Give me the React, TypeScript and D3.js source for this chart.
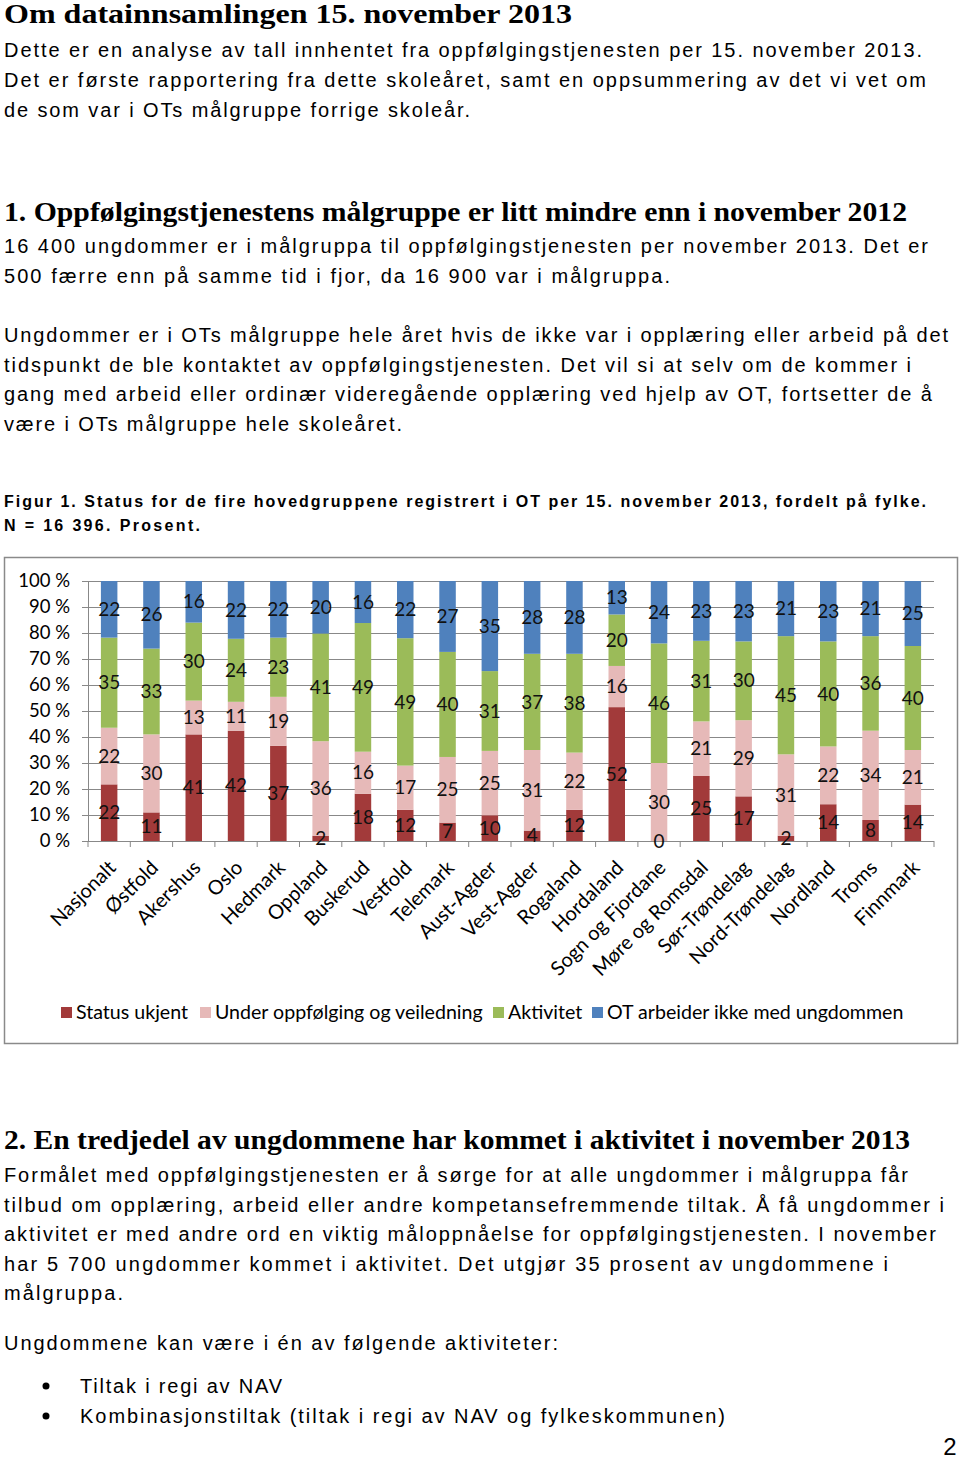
import React from "react";
import * as d3 from "d3";

// ---------- Chart data ----------
const categories = [
  "Nasjonalt", "Østfold", "Akershus", "Oslo", "Hedmark", "Oppland", "Buskerud",
  "Vestfold", "Telemark", "Aust-Agder", "Vest-Agder", "Rogaland", "Hordaland",
  "Sogn og Fjordane", "Møre og Romsdal", "Sør-Trøndelag", "Nord-Trøndelag",
  "Nordland", "Troms", "Finnmark",
];
const statusUkjent = [22, 11, 41, 42, 37, 2, 18, 12, 7, 10, 4, 12, 52, 0, 25, 17, 2, 14, 8, 14];
const underOppfolging = [22, 30, 13, 11, 19, 36, 16, 17, 25, 25, 31, 22, 16, 30, 21, 29, 31, 22, 34, 21];
const aktivitet = [35, 33, 30, 24, 23, 41, 49, 49, 40, 31, 37, 38, 20, 46, 31, 30, 45, 40, 36, 40];
const otIkke = [22, 26, 16, 22, 22, 20, 16, 22, 27, 35, 28, 28, 13, 24, 23, 23, 21, 23, 21, 25];

const seriesNames = [
  "Status ukjent",
  "Under oppfølging og veiledning",
  "Aktivitet",
  "OT arbeider ikke med ungdommen",
];
const seriesColors = ["#A23A3A", "#E6B9B8", "#9BBB59", "#4F81BD"];
const yTicks = [0, 0.1, 0.2, 0.3, 0.4, 0.5, 0.6, 0.7, 0.8, 0.9, 1];

// ---------- Page text ----------
const heading1 = "Om datainnsamlingen 15. november 2013";
const intro = [
  "Dette er en analyse av tall innhentet fra oppfølgingstjenesten per 15. november 2013.",
  "Det er første rapportering fra dette skoleåret, samt en oppsummering av det vi vet om",
  "de som var i OTs målgruppe forrige skoleår.",
];
const heading2 = "1. Oppfølgingstjenestens målgruppe er litt mindre enn i november 2012";
const para1 = [
  "16 400 ungdommer er i målgruppa til oppfølgingstjenesten per november 2013. Det er",
  "500 færre enn på samme tid i fjor, da 16 900 var i målgruppa.",
];
const para2 = [
  "Ungdommer er i OTs målgruppe hele året hvis de ikke var i opplæring eller arbeid på det",
  "tidspunkt de ble kontaktet av oppfølgingstjenesten. Det vil si at selv om de kommer i",
  "gang med arbeid eller ordinær videregående opplæring ved hjelp av OT, fortsetter de å",
  "være i OTs målgruppe hele skoleåret.",
];
const caption = [
  "Figur 1. Status for de fire hovedgruppene registrert i OT per 15. november 2013, fordelt på fylke.",
  "N = 16 396. Prosent.",
];
const heading3 = "2. En tredjedel av ungdommene har kommet i aktivitet i november 2013";
const para3 = [
  "Formålet med oppfølgingstjenesten er å sørge for at alle ungdommer i målgruppa får",
  "tilbud om opplæring, arbeid eller andre kompetansefremmende tiltak. Å få ungdommer i",
  "aktivitet er med andre ord en viktig måloppnåelse for oppfølgingstjenesten. I november",
  "har 5 700 ungdommer kommet i aktivitet. Det utgjør 35 prosent av ungdommene i",
  "målgruppa.",
];
const para4 = "Ungdommene kan være i én av følgende aktiviteter:";
const bullets = [
  "Tiltak i regi av NAV",
  "Kombinasjonstiltak (tiltak i regi av NAV og fylkeskommunen)",
];

const BODY = "'Liberation Sans', Arial, sans-serif";
const HEAD = "'Liberation Serif', 'DejaVu Serif', serif";
const CHART = "Lato, 'Open Sans', sans-serif";

function Line({ x = 4, y, w, children, size = 20, weight = 400, family = BODY, adjust = "spacing" }: any) {
  return (
    <text x={x} y={y} fontSize={size} fontWeight={weight} fontFamily={family}
      textLength={w} lengthAdjust={adjust} fill="#000">
      {children}
    </text>
  );
}

export default function App() {
  const rows = categories.map((c, i) => ({
    cat: c,
    s0: statusUkjent[i],
    s1: underOppfolging[i],
    s2: aktivitet[i],
    s3: otIkke[i],
  }));
  const keys = ["s0", "s1", "s2", "s3"];
  const raw = [statusUkjent, underOppfolging, aktivitet, otIkke];
  const stack = d3.stack<any>().keys(keys).offset(d3.stackOffsetExpand);
  const series = stack(rows);

  const plotL = 88, plotR = 934, plotT = 581, plotB = 841;
  const x = d3.scaleBand<string>().domain(categories).range([plotL, plotR])
    .paddingInner(0.61).paddingOuter(0.305);
  const y = d3.scaleLinear().domain([0, 1]).range([plotB, plotT]);
  const step = x.step();
  const bw = x.bandwidth();

  const legendX = [61, 200, 493, 592];

  return (
    <div style={{ position: "absolute", left: 0, top: 0 }}>
      <svg width={960} height={1462} style={{ display: "block", background: "#fff" }}>
        <rect x={0} y={0} width={960} height={1462} fill="#fff" />
        {/* Page text */}
        <Line y={23} w={568} size={27} weight={700} family={HEAD} adjust="spacingAndGlyphs">{heading1}</Line>
        {intro.map((t, i) => (
          <Line key={i} y={57 + i * 30} w={[918, 922, 466][i]}>{t}</Line>
        ))}
        <Line y={221} w={903} size={27} weight={700} family={HEAD} adjust="spacingAndGlyphs">{heading2}</Line>
        {para1.map((t, i) => (
          <Line key={i} y={253 + i * 30} w={[924, 666][i]}>{t}</Line>
        ))}
        {para2.map((t, i) => (
          <Line key={i} y={342 + i * 29.7} w={[944, 907, 928, 398][i]}>{t}</Line>
        ))}
        {caption.map((t, i) => (
          <Line key={i} y={507 + i * 24} w={[922, 196][i]} size={16} weight={700}>{t}</Line>
        ))}

        {/* Chart box */}
        <rect x={4.5} y={557.5} width={953} height={486} fill="#fff" stroke="#8a8a8a" strokeWidth={1.5} />

        {/* gridlines */}
        {yTicks.map((t) => (
          <line key={t} x1={82} x2={plotR} y1={Math.round(y(t)) + 0.5} y2={Math.round(y(t)) + 0.5}
            stroke="#888" strokeWidth={1} />
        ))}
        <line x1={plotL + 0.5} x2={plotL + 0.5} y1={plotT} y2={plotB} stroke="#888" />
        {d3.range(categories.length + 1).map((i) => (
          <line key={i} x1={plotL + i * step} x2={plotL + i * step} y1={plotB} y2={plotB + 6}
            stroke="#888" />
        ))}
        {yTicks.map((t) => (
          <text key={t} x={70} y={y(t)} dy="0.35em" textAnchor="end" fontSize={18.5}
            fontFamily={CHART} fill="#000">{Math.round(t * 100) + " %"}</text>
        ))}

        {/* bars */}
        {series.map((s, si) => (
          <g key={si} fill={seriesColors[si]}>
            {s.map((d: any, i) => (
              <rect key={i} x={x(categories[i])} width={bw} y={y(d[1])} height={y(d[0]) - y(d[1])} />
            ))}
          </g>
        ))}
        {/* value labels */}
        {series.map((s, si) => (
          <g key={"l" + si}>
            {s.map((d: any, i) => (
              <text key={i} x={(x(categories[i]) as number) + bw / 2} y={y((d[0] + d[1]) / 2)}
                dy="0.35em" textAnchor="middle" fontSize={19} fontFamily={CHART} fill="#111">
                {raw[si][i]}
              </text>
            ))}
          </g>
        ))}

        {/* category labels */}
        {categories.map((c) => {
          const cx = (x(c) as number) + bw / 2 + 8;
          const cy = 869;
          return (
            <text key={c} transform={`translate(${cx},${cy}) rotate(-45)`} textAnchor="end"
              fontSize={20} fontFamily={CHART} fill="#000">{c}</text>
          );
        })}

        {/* legend */}
        {seriesNames.map((n, i) => (
          <g key={n}>
            <rect x={legendX[i]} y={1007} width={11} height={11} fill={seriesColors[i]} />
            <text x={legendX[i] + 15} y={1019} fontSize={19.6} fontFamily={CHART} fill="#000">{n}</text>
          </g>
        ))}

        {/* Section 2 */}
        <Line y={1149} w={906} size={27} weight={700} family={HEAD} adjust="spacingAndGlyphs">{heading3}</Line>
        {para3.map((t, i) => (
          <Line key={i} y={1182 + i * 29.6} w={[904, 940, 932, 884, 119][i]}>{t}</Line>
        ))}
        <Line y={1350} w={554}>{para4}</Line>
        {bullets.map((t, i) => (
          <g key={i}>
            <circle cx={46} cy={1386 + i * 30} r={3.5} fill="#000" />
            <Line x={80} y={1393 + i * 30} w={[202, 645][i]}>{t}</Line>
          </g>
        ))}
        <text x={950} y={1455} textAnchor="middle" fontSize={24} fontFamily={BODY} fill="#000">2</text>
      </svg>
    </div>
  );
}
